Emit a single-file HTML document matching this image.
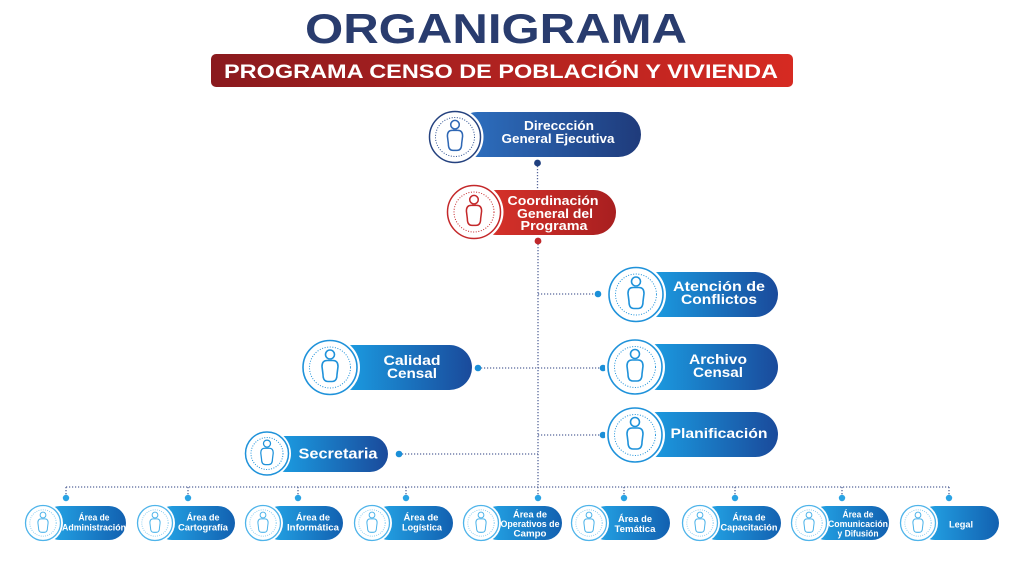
<!DOCTYPE html>
<html><head><meta charset="utf-8"><style>
html,body{margin:0;padding:0;background:#fff;}
svg{display:block;}
text{font-family:"Liberation Sans",Arial,sans-serif;font-weight:bold;fill:#fff;text-anchor:middle;}
</style></head><body>
<svg width="1024" height="579" viewBox="0 0 1024 579" xmlns="http://www.w3.org/2000/svg">
<defs>
<linearGradient id="gBanner" x1="0" x2="1" y1="0" y2="0"><stop offset="0" stop-color="#8a1a1e"/><stop offset="1" stop-color="#d62a22"/></linearGradient>
<linearGradient id="gNavy" x1="0" x2="1"><stop offset="0" stop-color="#2e73c4"/><stop offset="1" stop-color="#1f3b7b"/></linearGradient>
<linearGradient id="gRed" x1="0" x2="1"><stop offset="0" stop-color="#dc342b"/><stop offset="1" stop-color="#a81f20"/></linearGradient>
<linearGradient id="gBlue" x1="0" x2="1"><stop offset="0" stop-color="#1ba6ea"/><stop offset="1" stop-color="#1a4a9b"/></linearGradient>
<linearGradient id="gBot" x1="0" x2="1"><stop offset="0" stop-color="#25aaea"/><stop offset="1" stop-color="#1260b0"/></linearGradient>
<g id="person" fill="none" stroke-width="1.6" stroke-linejoin="round">
<circle cx="0" cy="-14" r="4.5"/>
<path d="M -3,-8 Q -8,-8 -8,-2 L -7,6 Q -7,13 -2,13 L 2,13 Q 7,13 7,6 L 8,-2 Q 8,-8 3,-8 Z"/>
</g>
</defs>

<!-- Title -->
<text x="496" y="43" font-size="42" textLength="382" lengthAdjust="spacingAndGlyphs" style="fill:#293c6e">ORGANIGRAMA</text>
<rect x="211" y="54" width="582" height="33" rx="5" fill="url(#gBanner)"/>
<text x="501" y="78" font-size="19" textLength="554" lengthAdjust="spacingAndGlyphs">PROGRAMA CENSO DE POBLACIÓN Y VIVIENDA</text>

<!-- Connectors -->
<g fill="none" stroke="#56669a" stroke-width="1.3" stroke-dasharray="1.2 1.8">
<line x1="537.5" y1="163" x2="537.5" y2="190"/>
<line x1="538" y1="241" x2="538" y2="497"/>
<line x1="538" y1="294" x2="598" y2="294"/>
<line x1="478" y1="368" x2="603" y2="368"/>
<line x1="538" y1="435" x2="603" y2="435"/>
<line x1="399" y1="454" x2="538" y2="454"/>
<line x1="66" y1="487" x2="949" y2="487"/>
<line x1="66" y1="487" x2="66" y2="497"/>
<line x1="188" y1="487" x2="188" y2="497"/>
<line x1="298" y1="487" x2="298" y2="497"/>
<line x1="406" y1="487" x2="406" y2="497"/>
<line x1="624" y1="487" x2="624" y2="497"/>
<line x1="735" y1="487" x2="735" y2="497"/>
<line x1="842" y1="487" x2="842" y2="497"/>
<line x1="949" y1="487" x2="949" y2="497"/>
</g>
<circle cx="537.5" cy="163" r="3.4" fill="#1f3f7f"/>
<circle cx="538" cy="241" r="3.4" fill="#c0282a"/>
<g fill="#1a8fd8">
<circle cx="598" cy="294" r="3.3"/>
<circle cx="603" cy="368" r="3.3"/>
<circle cx="603" cy="435" r="3.3"/>
<circle cx="478" cy="368" r="3.3"/>
<circle cx="399" cy="454" r="3.3"/>
</g>
<g fill="#2aa3e4">
<circle cx="66" cy="498" r="3.2"/><circle cx="188" cy="498" r="3.2"/><circle cx="298" cy="498" r="3.2"/>
<circle cx="406" cy="498" r="3.2"/><circle cx="538" cy="498" r="3.2"/><circle cx="624" cy="498" r="3.2"/>
<circle cx="735" cy="498" r="3.2"/><circle cx="842" cy="498" r="3.2"/><circle cx="949" cy="498" r="3.2"/>
</g>

<!-- Dirección -->
<rect x="455" y="112" width="186" height="45" rx="22.5" fill="url(#gNavy)"/>
<circle cx="455" cy="137" r="28.5" fill="#fff"/>
<circle cx="455" cy="137" r="25.5" fill="#fff" stroke="#25427f" stroke-width="1.5"/>
<circle cx="455" cy="137" r="19.5" fill="none" stroke="#2c4f91" stroke-width="1" stroke-dasharray="1 1.6"/>
<use href="#person" transform="translate(455,138) scale(0.95)" stroke="#2f67b4"/>
<text x="559" y="130" font-size="13" textLength="70" lengthAdjust="spacingAndGlyphs">Direccción</text>
<text x="558" y="143" font-size="13" textLength="113" lengthAdjust="spacingAndGlyphs">General Ejecutiva</text>

<!-- Coordinación -->
<rect x="474" y="190" width="142" height="45" rx="22.5" fill="url(#gRed)"/>
<circle cx="474" cy="212" r="29.5" fill="#fff"/>
<circle cx="474" cy="212" r="26.5" fill="#fff" stroke="#c4282a" stroke-width="1.5"/>
<circle cx="474" cy="212" r="20" fill="none" stroke="#c4282a" stroke-width="1" stroke-dasharray="1 1.6"/>
<use href="#person" transform="translate(474,213) scale(0.95)" stroke="#c4282a"/>
<text x="553" y="205" font-size="13" textLength="91" lengthAdjust="spacingAndGlyphs">Coordinación</text>
<text x="555" y="218" font-size="13" textLength="76" lengthAdjust="spacingAndGlyphs">General del</text>
<text x="554" y="230" font-size="13" textLength="67" lengthAdjust="spacingAndGlyphs">Programa</text>

<!-- Atención de Conflictos -->
<rect x="636" y="272" width="142" height="45" rx="22.5" fill="url(#gBlue)"/>
<circle cx="636" cy="294.5" r="30" fill="#fff"/>
<circle cx="636" cy="294.5" r="27" fill="#fff" stroke="#1f92da" stroke-width="1.6"/>
<circle cx="636" cy="294.5" r="20.5" fill="none" stroke="#1f92da" stroke-width="1" stroke-dasharray="1 1.6"/>
<use href="#person" transform="translate(636,295.5)" stroke="#1f92da"/>
<text x="719" y="291" font-size="14" textLength="92" lengthAdjust="spacingAndGlyphs">Atención de</text>
<text x="719" y="304" font-size="14" textLength="76" lengthAdjust="spacingAndGlyphs">Conflictos</text>

<!-- Archivo Censal -->
<rect x="635" y="344" width="143" height="46" rx="23" fill="url(#gBlue)"/>
<circle cx="635" cy="367" r="30" fill="#fff"/>
<circle cx="635" cy="367" r="27" fill="#fff" stroke="#1f92da" stroke-width="1.6"/>
<circle cx="635" cy="367" r="20.5" fill="none" stroke="#1f92da" stroke-width="1" stroke-dasharray="1 1.6"/>
<use href="#person" transform="translate(635,368)" stroke="#1f92da"/>
<text x="718" y="364" font-size="14" textLength="58" lengthAdjust="spacingAndGlyphs">Archivo</text>
<text x="718" y="377" font-size="14" textLength="50" lengthAdjust="spacingAndGlyphs">Censal</text>

<!-- Planificación -->
<rect x="635" y="412" width="143" height="45" rx="22.5" fill="url(#gBlue)"/>
<circle cx="635" cy="435" r="30" fill="#fff"/>
<circle cx="635" cy="435" r="27" fill="#fff" stroke="#1f92da" stroke-width="1.6"/>
<circle cx="635" cy="435" r="20.5" fill="none" stroke="#1f92da" stroke-width="1" stroke-dasharray="1 1.6"/>
<use href="#person" transform="translate(635,436)" stroke="#1f92da"/>
<text x="719" y="438" font-size="14" textLength="97" lengthAdjust="spacingAndGlyphs">Planificación</text>

<!-- Calidad Censal -->
<rect x="330" y="345" width="142" height="45" rx="22.5" fill="url(#gBlue)"/>
<circle cx="330" cy="367.5" r="30" fill="#fff"/>
<circle cx="330" cy="367.5" r="27" fill="#fff" stroke="#1f92da" stroke-width="1.6"/>
<circle cx="330" cy="367.5" r="20.5" fill="none" stroke="#1f92da" stroke-width="1" stroke-dasharray="1 1.6"/>
<use href="#person" transform="translate(330,368.5)" stroke="#1f92da"/>
<text x="412" y="365" font-size="14" textLength="57" lengthAdjust="spacingAndGlyphs">Calidad</text>
<text x="412" y="378" font-size="14" textLength="50" lengthAdjust="spacingAndGlyphs">Censal</text>

<!-- Secretaria -->
<rect x="267" y="436" width="121" height="36" rx="18" fill="url(#gBlue)"/>
<circle cx="267" cy="453.5" r="24" fill="#fff"/>
<circle cx="267" cy="453.5" r="21.5" fill="#fff" stroke="#1f92da" stroke-width="1.5"/>
<circle cx="267" cy="453.5" r="16" fill="none" stroke="#1f92da" stroke-width="1" stroke-dasharray="1 1.5"/>
<use href="#person" transform="translate(267,454.5) scale(0.78)" stroke="#1f92da"/>
<text x="338" y="458.5" font-size="14.5" textLength="79" lengthAdjust="spacingAndGlyphs">Secretaria</text>

<!-- Bottom row -->
<g>
<rect x="43" y="506" width="83" height="34" rx="17" fill="url(#gBot)"/>
<rect x="155" y="506" width="80" height="34" rx="17" fill="url(#gBot)"/>
<rect x="263" y="506" width="80" height="34" rx="17" fill="url(#gBot)"/>
<rect x="372" y="506" width="81" height="34" rx="17" fill="url(#gBot)"/>
<rect x="481" y="506" width="81" height="34" rx="17" fill="url(#gBot)"/>
<rect x="589" y="506" width="81" height="34" rx="17" fill="url(#gBot)"/>
<rect x="700" y="506" width="81" height="34" rx="17" fill="url(#gBot)"/>
<rect x="809" y="506" width="80" height="34" rx="17" fill="url(#gBot)"/>
<rect x="918" y="506" width="81" height="34" rx="17" fill="url(#gBot)"/>
</g>
<g fill="#fff">
<circle cx="43" cy="523" r="20"/><circle cx="155" cy="523" r="20"/><circle cx="263" cy="523" r="20"/>
<circle cx="372" cy="523" r="20"/><circle cx="481" cy="523" r="20"/><circle cx="589" cy="523" r="20"/>
<circle cx="700" cy="523" r="20"/><circle cx="809" cy="523" r="20"/><circle cx="918" cy="523" r="20"/>
</g>
<g fill="#fff" stroke="#4fb4ea" stroke-width="1.3">
<circle cx="43" cy="523" r="17.5"/><circle cx="155" cy="523" r="17.5"/><circle cx="263" cy="523" r="17.5"/>
<circle cx="372" cy="523" r="17.5"/><circle cx="481" cy="523" r="17.5"/><circle cx="589" cy="523" r="17.5"/>
<circle cx="700" cy="523" r="17.5"/><circle cx="809" cy="523" r="17.5"/><circle cx="918" cy="523" r="17.5"/>
</g>
<g fill="none" stroke="#7cc8f0" stroke-width="0.9" stroke-dasharray="0.9 1.3">
<circle cx="43" cy="523" r="13.2"/><circle cx="155" cy="523" r="13.2"/><circle cx="263" cy="523" r="13.2"/>
<circle cx="372" cy="523" r="13.2"/><circle cx="481" cy="523" r="13.2"/><circle cx="589" cy="523" r="13.2"/>
<circle cx="700" cy="523" r="13.2"/><circle cx="809" cy="523" r="13.2"/><circle cx="918" cy="523" r="13.2"/>
</g>
<g stroke="#4fb4ea">
<use href="#person" transform="translate(43,524) scale(0.64)"/>
<use href="#person" transform="translate(155,524) scale(0.64)"/>
<use href="#person" transform="translate(263,524) scale(0.64)"/>
<use href="#person" transform="translate(372,524) scale(0.64)"/>
<use href="#person" transform="translate(481,524) scale(0.64)"/>
<use href="#person" transform="translate(589,524) scale(0.64)"/>
<use href="#person" transform="translate(700,524) scale(0.64)"/>
<use href="#person" transform="translate(809,524) scale(0.64)"/>
<use href="#person" transform="translate(918,524) scale(0.64)"/>
</g>
<g font-size="9.5">
<text x="94" y="520.5" textLength="31" lengthAdjust="spacingAndGlyphs">Área de</text>
<text x="94" y="530.5" textLength="64" lengthAdjust="spacingAndGlyphs">Administración</text>
<text x="203" y="520.5" textLength="33" lengthAdjust="spacingAndGlyphs">Área de</text>
<text x="203" y="530.5" textLength="50" lengthAdjust="spacingAndGlyphs">Cartografía</text>
<text x="313" y="520.5" textLength="34" lengthAdjust="spacingAndGlyphs">Área de</text>
<text x="313" y="530.5" textLength="52" lengthAdjust="spacingAndGlyphs">Informática</text>
<text x="421" y="520.5" textLength="35" lengthAdjust="spacingAndGlyphs">Área de</text>
<text x="422" y="530.5" textLength="40" lengthAdjust="spacingAndGlyphs">Logística</text>
<text x="530" y="517.5" textLength="34" lengthAdjust="spacingAndGlyphs">Área de</text>
<text x="530" y="527" textLength="59" lengthAdjust="spacingAndGlyphs">Operativos de</text>
<text x="530" y="536.5" textLength="33" lengthAdjust="spacingAndGlyphs">Campo</text>
<text x="635" y="522" textLength="34" lengthAdjust="spacingAndGlyphs">Área de</text>
<text x="635" y="532" textLength="41" lengthAdjust="spacingAndGlyphs">Temática</text>
<text x="749" y="520.5" textLength="33" lengthAdjust="spacingAndGlyphs">Área de</text>
<text x="749" y="530.5" textLength="57" lengthAdjust="spacingAndGlyphs">Capacitación</text>
<text x="858" y="517.5" textLength="31" lengthAdjust="spacingAndGlyphs">Área de</text>
<text x="858" y="527" textLength="60" lengthAdjust="spacingAndGlyphs">Comunicación</text>
<text x="858" y="536.5" textLength="41" lengthAdjust="spacingAndGlyphs">y Difusión</text>
<text x="961" y="527.5" textLength="24" lengthAdjust="spacingAndGlyphs">Legal</text>
</g>
</svg>
</body></html>
